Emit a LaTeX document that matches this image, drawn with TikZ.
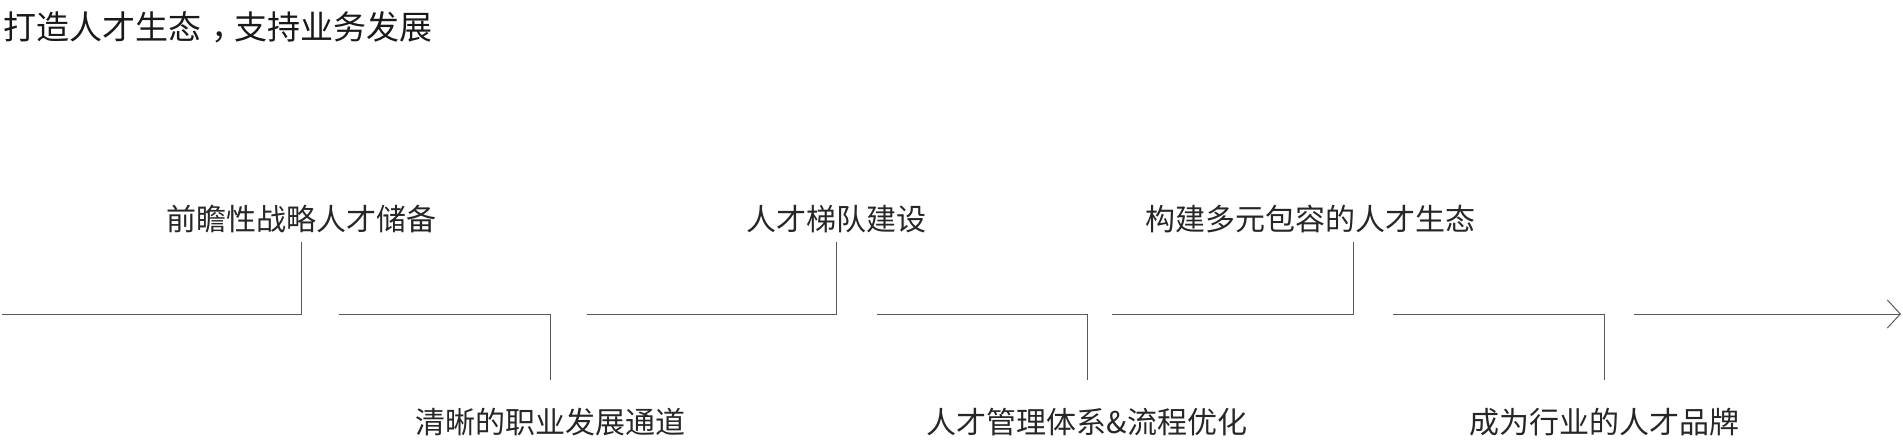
\documentclass[tikz,border=0pt]{standalone}
\usepackage{fontspec}
\newfontfamily\cjk{Noto Sans CJK SC}
\usetikzlibrary{positioning}
\usetikzlibrary{arrows.meta}

\begin{document}
\begin{tikzpicture} [
  x = 1pt, y = -1pt,
  etiquette/.style = {font = \cjk\fontsize{30}{36}\selectfont, inner sep = 0pt, text = black!85},
  titre/.style = {font = \cjk\fontsize{33}{40}\selectfont, inner sep = 0pt, anchor = west, text = black!90},
  line/.style = {draw, black!65, line width = 1pt},
]
\useasboundingbox (0,0) rectangle (1903,440);

 \node [titre] (tit) at (3,27) {打造人才生态\kern0.3em，\kern-0.3em 支持业务发展};

 % debuts des segments
 \coordinate (d1) at (2,314);
 \coordinate (d2) at (339,314);
 \coordinate (d3) at (587,314);
 \coordinate (d4) at (877,314);
 \coordinate (d5) at (1112,314);
 \coordinate (d6) at (1393,314);
 \coordinate (d7) at (1634,314);
 \coordinate (fin) at (1901,314);

 % bouts des jalons
 \coordinate (h1) at (301,242);
 \coordinate (b2) at (550,380);
 \coordinate (h3) at (836,242);
 \coordinate (b4) at (1087,380);
 \coordinate (h5) at (1353,242);
 \coordinate (b6) at (1604,380);

 \node [etiquette, above = 9pt of h1] (e1) {前瞻性战略人才储备};
 \node [etiquette, below = 28pt of b2] (e2) {清晰的职业发展通道};
 \node [etiquette, above = 9pt of h3] (e3) {人才梯队建设};
 \node [etiquette, below = 28pt of b4] (e4) {人才管理体系\&流程优化};
 \node [etiquette, above = 9pt of h5, xshift = -43pt] (e5) {构建多元包容的人才生态};
 \node [etiquette, below = 28pt of b6] (e6) {成为行业的人才品牌};

 \begin{scope}[every path/.style=line]
\path (d1) -| (h1) ;
\path (d2) -| (b2) ;
\path (d3) -| (h3) ;
\path (d4) -| (b4) ;
\path (d5) -| (h5) ;
\path (d6) -| (b6) ;
\path [-{Straight Barb[length=13pt,width=28pt]}] (d7) -- (fin) ;

\end{scope}

\end{tikzpicture}
\end{document}
